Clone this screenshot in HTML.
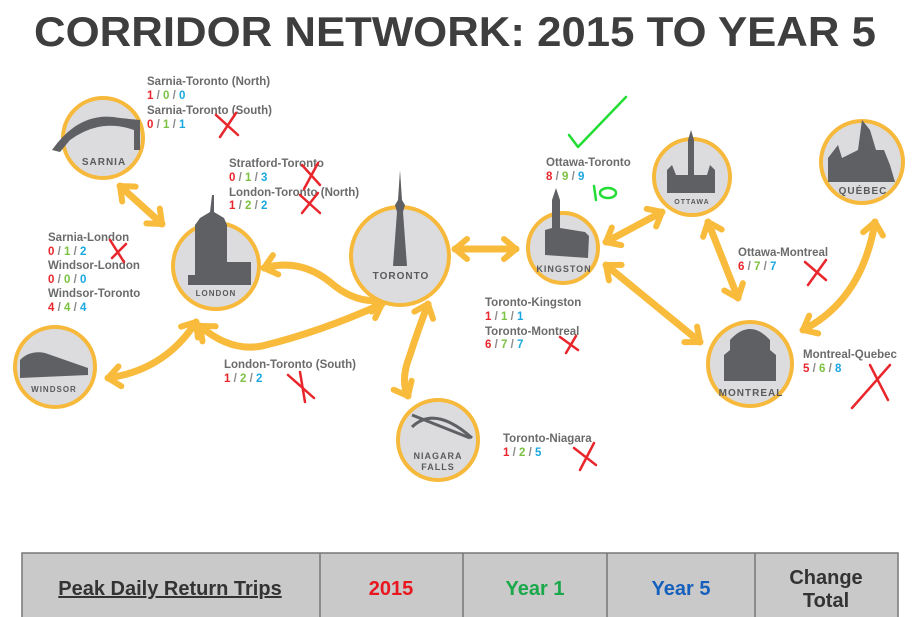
<!DOCTYPE html>
<html><head><meta charset="utf-8"><style>
html,body{margin:0;padding:0;background:#fff;width:914px;height:617px;overflow:hidden}
svg{display:block}
.lb{font:bold 11.5px "Liberation Sans",sans-serif;fill:#6b6b6b}
.nm{font:bold 11.5px "Liberation Sans",sans-serif}
.r{fill:#e8262c}.g{fill:#7cc242}.b{fill:#1ba8e0}.s{fill:#8a8a8a}
.cn{font:bold 10px "Liberation Sans",sans-serif;fill:#5a5a5a;text-anchor:middle;letter-spacing:1px}
.city{fill:#dcdcde;stroke:#f6b93b;stroke-width:4}
.ar{fill:none;stroke:#f8bb3c;stroke-width:7;stroke-linecap:round;marker-start:url(#m);marker-end:url(#m)}
.x{stroke:#e8262c;stroke-width:2.5;stroke-linecap:round;fill:none}
.bd{fill:#5f6063}
.th{font:bold 20px "Liberation Sans",sans-serif;text-anchor:middle}
</style></head><body>
<svg width="914" height="617" viewBox="0 0 914 617">
<defs>
<marker id="m" markerUnits="userSpaceOnUse" markerWidth="26" markerHeight="26" refX="16" refY="13" orient="auto-start-reverse" viewBox="0 0 26 26">
<path d="M4,3 L16,13 L4,23" fill="none" stroke="#f8bb3c" stroke-width="6" stroke-linecap="round" stroke-linejoin="round"/>
</marker>
</defs>
<text x="455" y="46" text-anchor="middle" textLength="842" lengthAdjust="spacingAndGlyphs" style="font:bold 42px 'Liberation Sans',sans-serif;fill:#3e3e3e">CORRIDOR NETWORK: 2015 TO YEAR 5</text>

<path class="ar" d="M120,186 L162,224"/>
<path class="ar" d="M264,268 Q300,258 330,282 Q355,304 382,300"/>
<path class="ar" d="M108,378 Q165,370 196,322"/>
<path class="ar" d="M200,326 Q230,352 262,346 Q320,332 382,304"/>
<path class="ar" d="M428,304 Q418,330 410,355 Q400,380 408,396"/>
<path class="ar" d="M455,249 L516,249"/>
<path class="ar" d="M606,242 L662,212"/>
<path class="ar" d="M606,265 L700,342"/>
<path class="ar" d="M708,222 L738,298"/>
<path class="ar" d="M803,330 Q862,300 875,222"/>

<circle class="city" cx="103" cy="138" r="40"/>
<path class="bd" d="M52,150 Q80,110 120,118 L140,120 L140,150 L134,150 L134,130 Q100,118 70,140 L60,152 Z"/>
<text class="cn" x="104" y="165">SARNIA</text>

<circle class="city" cx="216" cy="266" r="43"/>
<path class="bd" d="M188,275 L195,275 L195,225 L200,218 L210,212 L212,195 L214,195 L214,212 L224,218 L227,225 L227,262 L251,262 L251,285 L188,285 Z"/>
<text class="cn" x="216" y="296" style="font-size:8px">LONDON</text>

<circle class="city" cx="400" cy="256" r="49"/>
<path class="bd" d="M400,170 L402,200 L405,205 L403,212 L407,266 L393,266 L397,212 L395,205 L398,200 Z"/>
<text class="cn" x="401" y="279">TORONTO</text>

<circle class="city" cx="55" cy="367" r="40"/>
<path class="bd" d="M20,368 L20,360 Q30,350 45,353 L88,368 L88,375 L20,378 Z"/>
<text class="cn" x="54" y="392" style="font-size:8px">WINDSOR</text>

<circle class="city" cx="438" cy="440" r="40"/>
<path d="M412,427 Q435,405 472,438 M412,415 L470,438" fill="none" stroke="#5f6063" stroke-width="3"/>
<text class="cn" x="438" y="459" style="font-size:9px">NIAGARA</text>
<text class="cn" x="438" y="470" style="font-size:9px">FALLS</text>

<circle class="city" cx="563" cy="248" r="35"/>
<path class="bd" d="M545,255 L545,230 L552,228 L552,200 L556,188 L560,200 L560,228 L585,232 L589,236 L588,258 Z"/>
<text class="cn" x="564" y="272" style="font-size:9px">KINGSTON</text>

<circle class="city" cx="692" cy="177" r="38"/>
<path class="bd" d="M667,193 L667,170 L672,165 L676,175 L688,175 L688,140 L691,130 L694,140 L694,175 L707,175 L710,165 L715,170 L715,193 Z"/>
<text class="cn" x="692" y="204" style="font-size:7px">OTTAWA</text>

<circle class="city" cx="862" cy="162" r="41"/>
<path class="bd" d="M828,182 L828,158 L838,145 L842,158 L858,150 L862,120 L870,130 L876,150 L884,150 L890,165 L895,182 Z"/>
<text class="cn" x="863" y="194">QUÉBEC</text>

<circle class="city" cx="750" cy="364" r="42"/>
<path class="bd" d="M724,381 L724,355 L730,350 L730,340 Q750,318 770,340 L770,350 L776,355 L776,381 Z"/>
<text class="cn" x="751" y="396">MONTREAL</text>

<text class="lb" x="147" y="85">Sarnia-Toronto (North)</text>
<text class="nm" x="147" y="99"><tspan class="r">1</tspan><tspan class="s"> / </tspan><tspan class="g">0</tspan><tspan class="s"> / </tspan><tspan class="b">0</tspan></text>
<text class="lb" x="147" y="114">Sarnia-Toronto (South)</text>
<text class="nm" x="147" y="128"><tspan class="r">0</tspan><tspan class="s"> / </tspan><tspan class="g">1</tspan><tspan class="s"> / </tspan><tspan class="b">1</tspan></text>

<text class="lb" x="229" y="167">Stratford-Toronto</text>
<text class="nm" x="229" y="181"><tspan class="r">0</tspan><tspan class="s"> / </tspan><tspan class="g">1</tspan><tspan class="s"> / </tspan><tspan class="b">3</tspan></text>
<text class="lb" x="229" y="196">London-Toronto (North)</text>
<text class="nm" x="229" y="209"><tspan class="r">1</tspan><tspan class="s"> / </tspan><tspan class="g">2</tspan><tspan class="s"> / </tspan><tspan class="b">2</tspan></text>

<text class="lb" x="48" y="241">Sarnia-London</text>
<text class="nm" x="48" y="255"><tspan class="r">0</tspan><tspan class="s"> / </tspan><tspan class="g">1</tspan><tspan class="s"> / </tspan><tspan class="b">2</tspan></text>
<text class="lb" x="48" y="269">Windsor-London</text>
<text class="nm" x="48" y="283"><tspan class="r">0</tspan><tspan class="s"> / </tspan><tspan class="g">0</tspan><tspan class="s"> / </tspan><tspan class="b">0</tspan></text>
<text class="lb" x="48" y="297">Windsor-Toronto</text>
<text class="nm" x="48" y="311"><tspan class="r">4</tspan><tspan class="s"> / </tspan><tspan class="g">4</tspan><tspan class="s"> / </tspan><tspan class="b">4</tspan></text>

<text class="lb" x="224" y="368">London-Toronto (South)</text>
<text class="nm" x="224" y="382"><tspan class="r">1</tspan><tspan class="s"> / </tspan><tspan class="g">2</tspan><tspan class="s"> / </tspan><tspan class="b">2</tspan></text>

<text class="lb" x="546" y="166">Ottawa-Toronto</text>
<text class="nm" x="546" y="180"><tspan class="r">8</tspan><tspan class="s"> / </tspan><tspan class="g">9</tspan><tspan class="s"> / </tspan><tspan class="b">9</tspan></text>

<text class="lb" x="485" y="306">Toronto-Kingston</text>
<text class="nm" x="485" y="320"><tspan class="r">1</tspan><tspan class="s"> / </tspan><tspan class="g">1</tspan><tspan class="s"> / </tspan><tspan class="b">1</tspan></text>
<text class="lb" x="485" y="335">Toronto-Montreal</text>
<text class="nm" x="485" y="348"><tspan class="r">6</tspan><tspan class="s"> / </tspan><tspan class="g">7</tspan><tspan class="s"> / </tspan><tspan class="b">7</tspan></text>

<text class="lb" x="738" y="256">Ottawa-Montreal</text>
<text class="nm" x="738" y="270"><tspan class="r">6</tspan><tspan class="s"> / </tspan><tspan class="g">7</tspan><tspan class="s"> / </tspan><tspan class="b">7</tspan></text>

<text class="lb" x="803" y="358">Montreal-Quebec</text>
<text class="nm" x="803" y="372"><tspan class="r">5</tspan><tspan class="s"> / </tspan><tspan class="g">6</tspan><tspan class="s"> / </tspan><tspan class="b">8</tspan></text>

<text class="lb" x="503" y="442">Toronto-Niagara</text>
<text class="nm" x="503" y="456"><tspan class="r">1</tspan><tspan class="s"> / </tspan><tspan class="g">2</tspan><tspan class="s"> / </tspan><tspan class="b">5</tspan></text>

<path class="x" d="M216,115 L238,135 M236,113 L220,137"/>
<path class="x" d="M302,165 L320,185 M318,163 L304,189"/>
<path class="x" d="M300,195 L320,213 M318,193 L302,213"/>
<path class="x" d="M110,240 L124,262 M126,244 L112,258"/>
<path class="x" d="M288,375 L314,398 M300,372 L305,402"/>
<path class="x" d="M560,337 L578,350 M576,336 L566,353"/>
<path class="x" d="M805,262 L826,280 M826,260 L808,285"/>
<path class="x" d="M852,408 L890,365 M870,365 L888,400"/>
<path class="x" d="M574,448 L596,465 M594,443 L580,470"/>
<path d="M569,135 L578,147 L626,97" fill="none" stroke="#22dd33" stroke-width="2.5" stroke-linecap="round" stroke-linejoin="round"/>
<path d="M594,186 L596,200" stroke="#22dd33" stroke-width="2.5" fill="none" stroke-linecap="round"/>
<ellipse cx="608" cy="193" rx="8" ry="5" fill="none" stroke="#22dd33" stroke-width="2.5"/>

<rect x="22" y="553" width="876" height="70" fill="#c9c9c9" stroke="#777" stroke-width="1.5"/>
<path d="M320,553 V617 M463,553 V617 M607,553 V617 M755,553 V617" stroke="#777" stroke-width="1.5"/>
<text class="th" x="170" y="595" fill="#333" text-decoration="underline">Peak Daily Return Trips</text>
<text class="th" x="391" y="595" fill="#e8161e">2015</text>
<text class="th" x="535" y="595" fill="#1aa84b">Year 1</text>
<text class="th" x="681" y="595" fill="#1560bd">Year 5</text>
<text class="th" x="826" y="584" fill="#333">Change</text>
<text class="th" x="826" y="607" fill="#333">Total</text>
</svg>
</body></html>
